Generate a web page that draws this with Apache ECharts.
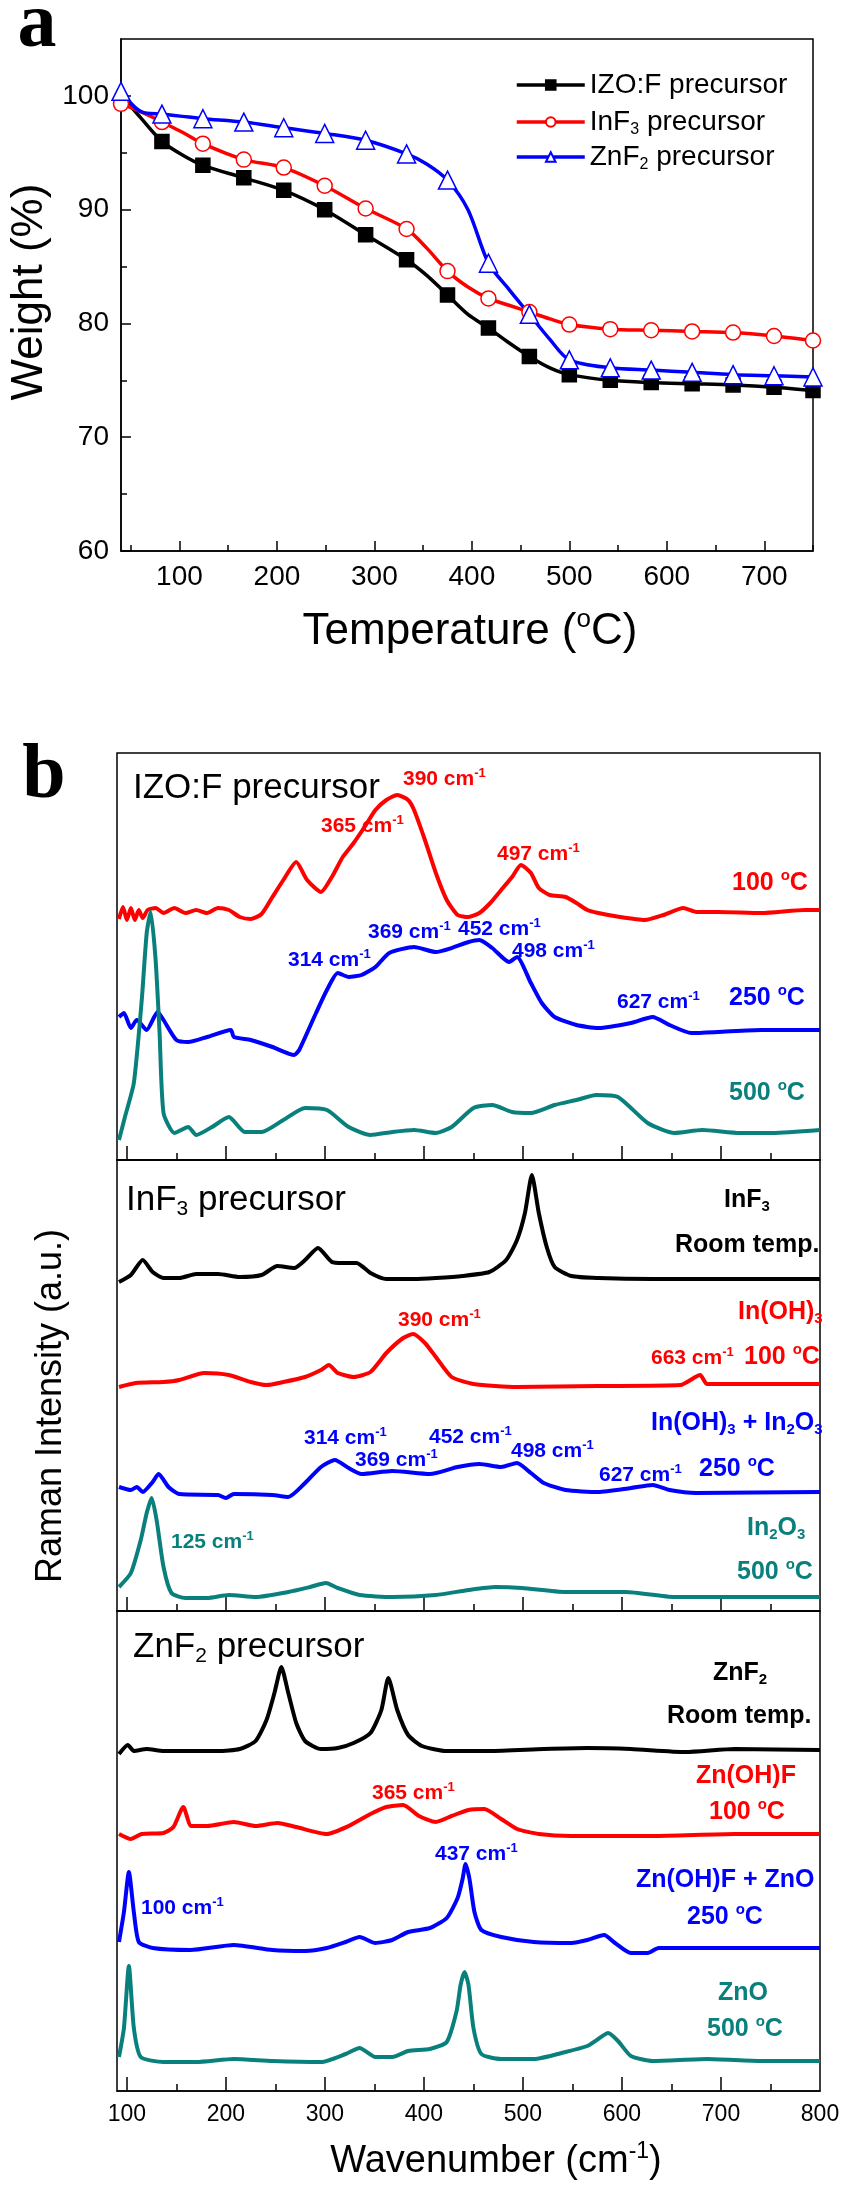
<!DOCTYPE html>
<html>
<head>
<meta charset="utf-8">
<script src="https://cdn.jsdelivr.net/npm/echarts@6/dist/echarts.min.js"></script>
<style>
  html, body { margin: 0; padding: 0; background: #fff; }
  #chart { width: 852px; height: 2196px; }
</style>
</head>
<body>
<div id="chart"></div>
<script>
// ---- panel a : TGA curves ----
const tempA = [40, 61, 82, 103, 124, 166, 207, 249, 291, 333, 354, 375, 396, 417, 438, 459, 480, 500, 542, 584, 626, 668, 710, 750];
const markerTemps = [40, 82, 124, 166, 207, 249, 291, 333, 375, 417, 459, 500, 542, 584, 626, 668, 710, 750];
const weightIZO  = [100.1, 98.0, 96.0, 94.8, 93.9, 92.8, 91.7, 90.0, 87.8, 85.6, 84.2, 82.5, 80.8, 79.6, 78.3, 77.1, 76.1, 75.5, 75.0, 74.8, 74.7, 74.6, 74.4, 74.1];
const weightInF3 = [99.3, 98.6, 97.7, 96.8, 95.8, 94.4, 93.7, 92.1, 90.1, 88.3, 86.6, 84.6, 83.2, 82.2, 81.6, 81.0, 80.4, 79.9, 79.5, 79.4, 79.3, 79.2, 78.9, 78.5];
const weightZnF2 = [100.4, 98.6, 98.4, 98.2, 98.0, 97.7, 97.2, 96.7, 96.1, 94.9, 94.0, 92.6, 90.0, 85.3, 83.0, 80.8, 78.6, 76.8, 76.1, 75.9, 75.7, 75.5, 75.4, 75.3];
const tgaNames = ['IZO:F precursor', 'InF3 precursor', 'ZnF2 precursor'];
const tempTicks = [100, 200, 300, 400, 500, 600, 700];
const tempMinor = [50, 150, 250, 350, 450, 550, 650, 750];
const weightTicks = [60, 70, 80, 90, 100];
const weightMinor = [65, 75, 85, 95];

// ---- panel b : Raman spectra, [wavenumber, intensity + offset] ----
const waveTicks = [100, 200, 300, 400, 500, 600, 700, 800];
const waveMinor = [150, 250, 350, 450, 550, 650, 750];

// IZO:F precursor
const izo100 = [[92,241],[96,253],[100,240],[104,252],[108,240],[112,250],[116,242],[121,250],[129,252],[137,247],[148,252],[159,247],[170,250],[181,247],[192,252],[203,250],[214,243],[225,241],[236,246],[247,263],[258,280],[271,298],[282,280],[296,268],[307,283],[318,303],[329,317],[340,333],[351,350],[362,360],[373,365],[384,360],[390,350],[401,320],[412,287],[423,260],[434,245],[445,243],[456,247],[467,257],[478,270],[489,283],[498,295],[508,287],[516,272],[527,265],[543,263],[554,257],[565,250],[576,247],[598,243],[623,240],[642,245],[662,252],[675,248],[697,248],[741,247],[785,250],[800,250]];
const izo250 = [[92,143],[97,147],[104,132],[110,140],[120,130],[131,148],[137,140],[150,120],[162,118],[181,123],[205,130],[208,123],[225,120],[247,113],[269,105],[274,110],[291,147],[302,170],[313,187],[324,183],[337,185],[351,193],[365,207],[390,213],[412,208],[428,212],[445,218],[456,220],[469,212],[486,198],[494,203],[508,177],[519,157],[532,143],[554,135],[576,132],[609,137],[631,143],[648,135],[670,127],[697,128],[741,130],[800,130]];
const izo500 = [[92,20],[98,43],[107,77],[115,160],[120,227],[124,248],[129,200],[133,127],[137,47],[148,27],[162,33],[170,25],[186,33],[203,43],[219,28],[236,28],[258,40],[280,52],[302,50],[324,33],[346,25],[368,28],[390,30],[412,27],[428,33],[450,52],[469,55],[489,48],[508,47],[532,55],[554,60],[574,65],[596,63],[626,37],[653,27],[681,30],[719,27],[752,27],[800,30]];

// InF3 precursor
const inf3RT = [[92,329],[104,336],[116,351],[126,339],[137,333],[153,333],[170,337],[192,337],[214,334],[236,336],[252,345],[269,343],[280,351],[293,363],[307,349],[318,348],[332,348],[346,338],[362,332],[390,332],[412,333],[439,335],[466,339],[483,351],[494,371],[502,398],[509,436],[516,398],[524,364],[532,344],[549,335],[576,333],[631,332],[686,332],[800,332]];
const inf3_100 = [[92,224],[109,228],[137,229],[153,231],[178,238],[203,236],[225,229],[241,226],[258,229],[280,234],[296,241],[304,246],[313,238],[329,234],[346,239],[362,258],[379,273],[389,277],[401,268],[412,254],[428,234],[450,227],[494,224],[576,225],[659,226],[679,236],[686,227],[800,227]];
const inf3_250 = [[92,124],[104,121],[110,124],[116,119],[126,129],[132,137],[142,124],[153,117],[192,116],[200,113],[208,117],[247,116],[263,114],[280,128],[296,144],[310,151],[324,143],[337,137],[368,140],[406,137],[434,144],[456,147],[478,144],[494,148],[508,138],[521,128],[543,121],[576,119],[609,123],[631,126],[648,121],[675,118],[800,119]];
const inf3_500 = [[92,24],[104,38],[114,71],[120,98],[125,113],[130,91],[137,44],[145,18],[159,13],[181,13],[203,16],[230,14],[263,19],[285,24],[301,28],[313,23],[335,16],[368,14],[412,16],[445,21],[472,24],[499,23],[543,19],[604,19],[653,14],[697,14],[800,14]];

// ZnF2 precursor
const znf2RT = [[92,337],[101,346],[107,340],[120,342],[137,340],[164,340],[192,340],[214,342],[230,350],[241,371],[249,398],[256,424],[263,398],[271,368],[280,350],[296,342],[313,343],[329,348],[346,358],[357,381],[364,413],[373,381],[384,356],[398,345],[423,340],[466,340],[521,342],[565,343],[609,342],[664,339],[714,342],[800,341]];
const znf2_100 = [[92,257],[104,252],[115,257],[137,258],[147,264],[157,284],[165,265],[181,265],[208,269],[230,265],[252,268],[271,264],[302,257],[324,265],[346,277],[362,284],[379,286],[395,275],[412,269],[428,275],[445,281],[461,282],[478,272],[494,262],[516,257],[549,255],[631,255],[714,257],[800,257]];
const znf2_250 = [[92,149],[97,179],[102,219],[107,179],[112,149],[126,143],[164,141],[208,146],[247,141],[280,140],[302,143],[321,149],[335,154],[351,148],[368,151],[384,159],[406,163],[423,173],[434,193],[439,212],[442,227],[446,212],[451,179],[458,161],[478,154],[511,149],[549,148],[565,151],[582,156],[593,148],[609,138],[626,138],[637,143],[686,143],[741,143],[800,143]];
const znf2_500 = [[92,34],[97,63],[102,125],[107,63],[114,34],[137,29],[170,29],[208,32],[247,30],[296,29],[321,37],[335,43],[351,34],[368,34],[384,40],[406,42],[423,49],[433,80],[437,106],[441,119],[445,106],[450,63],[458,37],[478,32],[511,32],[543,39],[565,45],[576,52],[586,58],[596,50],[609,35],[631,30],[686,32],[741,30],[800,30]];

const FONT = '"Liberation Sans", Arial, sans-serif';
const RED = '#ff0000', BLUE = '#0000ff', TEAL = '#0a807c', BLACK = '#000000';

function richFor(size, color, weight) {
  const small = Math.round(size * 0.6);
  return {
    s: { fontSize: small, fontFamily: FONT, fontWeight: weight, fill: color, color: color, padding: [0, 0, Math.round(size * 0.55), 0] },
    b: { fontSize: small, fontFamily: FONT, fontWeight: weight, fill: color, color: color, padding: [Math.round(size * 0.5), 0, 0, 0] }
  };
}

function label(x, y, text, size, color, bold, opts) {
  const weight = bold ? 'bold' : 'normal';
  const o = opts || {};
  return {
    type: 'text', x: x, y: y, rotation: o.rotation || 0, z: 100,
    style: {
      text: text, fill: color, fontSize: size, fontWeight: weight,
      fontFamily: o.family || FONT,
      align: o.align || 'left', verticalAlign: 'middle',
      rich: richFor(size, color, weight)
    }
  };
}

function tgaSeries(name, vals, color, symbol, fill, size, skipFirst) {
  return {
    name: name, type: 'line', xAxisIndex: 0, yAxisIndex: 0,
    smooth: 0.3, symbol: symbol, symbolSize: size, showAllSymbol: true,
    lineStyle: { color: color, width: 3.5 },
    itemStyle: { color: fill, borderColor: color, borderWidth: 1.5 },
    data: tempA.map((t, i) => {
      const marked = markerTemps.includes(t) && !(skipFirst && i === 0);
      return { value: [t, vals[i]], symbol: marked ? symbol : 'none' };
    }),
    z: 3
  };
}

function ramanSeries(pairs, color, panel) {
  return {
    type: 'line', xAxisIndex: 2 + panel * 2, yAxisIndex: 2 + panel,
    symbol: 'none', smooth: 0.2,
    lineStyle: { color: color, width: 4 },
    data: pairs
  };
}

function xAxisPair(grid, min, max, major, minor, labels, labelSize) {
  return [{
    type: 'value', gridIndex: grid, min: min, max: max, position: 'bottom',
    axisLine: { show: true, onZero: false, lineStyle: { color: '#000', width: 1.5 } },
    axisTick: { show: true, inside: true, length: grid === 0 ? 10 : 14, customValues: major, lineStyle: { color: '#000', width: 1.5 } },
    axisLabel: { show: !!labels, customValues: labels || [], fontSize: labelSize, fontFamily: FONT, color: '#000', margin: 12 },
    splitLine: { show: false }
  }, {
    type: 'value', gridIndex: grid, min: min, max: max, position: 'bottom',
    axisLine: { show: false, onZero: false },
    axisTick: { show: true, inside: true, length: grid === 0 ? 6 : 7, customValues: minor, lineStyle: { color: '#000', width: 1.5 } },
    axisLabel: { show: false },
    splitLine: { show: false }
  }];
}

const gridBase = { show: true, borderColor: '#000', borderWidth: 1.5, containLabel: false };
const grids = [
  Object.assign({ left: 121, top: 39, width: 692, height: 512 }, gridBase),
  Object.assign({ left: 117, top: 753, width: 703, height: 407 }, gridBase),
  Object.assign({ left: 117, top: 1160, width: 703, height: 451 }, gridBase),
  Object.assign({ left: 117, top: 1611, width: 703, height: 480 }, gridBase)
];

const xAxes = [].concat(
  xAxisPair(0, 40, 750, tempTicks, tempMinor, tempTicks, 28),
  xAxisPair(1, 90, 800, waveTicks.slice(0, 7), waveMinor, null, 23),
  xAxisPair(2, 90, 800, waveTicks.slice(0, 7), waveMinor, null, 23),
  xAxisPair(3, 90, 800, waveTicks.slice(0, 7), waveMinor, waveTicks, 23)
);

const yAxes = [
  {
    type: 'value', gridIndex: 0, min: 60, max: 105, position: 'left',
    axisLine: { show: true, lineStyle: { color: '#000', width: 1.5 } },
    axisTick: { show: true, inside: true, length: 10, customValues: weightTicks, lineStyle: { color: '#000', width: 1.5 } },
    axisLabel: { customValues: weightTicks, fontSize: 28, fontFamily: FONT, color: '#000', margin: 12 },
    splitLine: { show: false }
  },
  {
    type: 'value', gridIndex: 0, min: 60, max: 105, position: 'left',
    axisLine: { show: false },
    axisTick: { show: true, inside: true, length: 6, customValues: weightMinor, lineStyle: { color: '#000', width: 1.5 } },
    axisLabel: { show: false },
    splitLine: { show: false }
  },
  { type: 'value', gridIndex: 1, min: 0, max: 407, show: false },
  { type: 'value', gridIndex: 2, min: 0, max: 451, show: false },
  { type: 'value', gridIndex: 3, min: 0, max: 480, show: false }
];

const legendFmt = name => name.replace(/F(\d)/, 'F{b|$1}');
const legendCenters = [85, 122, 157];
const legends = tgaNames.map((n, i) => ({
  data: [n], left: 515, top: legendCenters[i] - 14, padding: 0,
  itemWidth: 68, itemHeight: 12, itemGap: 5, selectedMode: false,
  lineStyle: { width: 3.5 },
  formatter: legendFmt,
  textStyle: {
    fontSize: 28, fontFamily: FONT, color: '#000',
    rich: { b: { fontSize: 16, fontFamily: FONT, color: '#000', padding: [16, 0, 0, 0] } }
  }
}));

const cm = 'cm{s|-1}';
const texts = [
  label(37, 26, 'a', 78, BLACK, true, { align: 'center', family: '"Liberation Serif", "Times New Roman", serif' }),
  label(30, 292, 'Weight (%)', 44, BLACK, false, { align: 'center', rotation: Math.PI / 2 }),
  label(470, 632, 'Temperature ({s|o}C)', 44, BLACK, false, { align: 'center' }),

  label(44, 777, 'b', 78, BLACK, true, { align: 'center', family: '"Liberation Serif", "Times New Roman", serif' }),
  label(51, 1406, 'Raman Intensity (a.u.)', 36, BLACK, false, { align: 'center', rotation: Math.PI / 2 }),
  label(496, 2162, 'Wavenumber (' + cm + ')', 38, BLACK, false, { align: 'center' }),

  // IZO:F precursor
  label(133, 788, 'IZO:F precursor', 35, BLACK, false),
  label(403, 779, '390 ' + cm, 21, RED, true),
  label(321, 826, '365 ' + cm, 21, RED, true),
  label(497, 854, '497 ' + cm, 21, RED, true),
  label(732, 883, '100 {s|o}C', 25, RED, true),
  label(368, 932, '369 ' + cm, 21, BLUE, true),
  label(458, 929, '452 ' + cm, 21, BLUE, true),
  label(288, 960, '314 ' + cm, 21, BLUE, true),
  label(512, 951, '498 ' + cm, 21, BLUE, true),
  label(617, 1002, '627 ' + cm, 21, BLUE, true),
  label(729, 998, '250 {s|o}C', 25, BLUE, true),
  label(729, 1093, '500 {s|o}C', 25, TEAL, true),

  // InF3 precursor
  label(126, 1200, 'InF{b|3} precursor', 35, BLACK, false),
  label(724, 1200, 'InF{b|3}', 25, BLACK, true),
  label(675, 1245, 'Room temp.', 25, BLACK, true),
  label(398, 1320, '390 ' + cm, 21, RED, true),
  label(738, 1312, 'In(OH){b|3}', 25, RED, true),
  label(651, 1358, '663 ' + cm, 21, RED, true),
  label(744, 1357, '100 {s|o}C', 25, RED, true),
  label(651, 1423, 'In(OH){b|3} + In{b|2}O{b|3}', 25, BLUE, true),
  label(304, 1438, '314 ' + cm, 21, BLUE, true),
  label(429, 1437, '452 ' + cm, 21, BLUE, true),
  label(355, 1460, '369 ' + cm, 21, BLUE, true),
  label(511, 1451, '498 ' + cm, 21, BLUE, true),
  label(599, 1475, '627 ' + cm, 21, BLUE, true),
  label(699, 1469, '250 {s|o}C', 25, BLUE, true),
  label(171, 1542, '125 ' + cm, 21, TEAL, true),
  label(747, 1528, 'In{b|2}O{b|3}', 25, TEAL, true),
  label(737, 1572, '500 {s|o}C', 25, TEAL, true),

  // ZnF2 precursor
  label(133, 1647, 'ZnF{b|2} precursor', 35, BLACK, false),
  label(713, 1673, 'ZnF{b|2}', 25, BLACK, true),
  label(667, 1716, 'Room temp.', 25, BLACK, true),
  label(696, 1776, 'Zn(OH)F', 25, RED, true),
  label(372, 1793, '365 ' + cm, 21, RED, true),
  label(709, 1812, '100 {s|o}C', 25, RED, true),
  label(435, 1854, '437 ' + cm, 21, BLUE, true),
  label(636, 1880, 'Zn(OH)F + ZnO', 25, BLUE, true),
  label(687, 1917, '250 {s|o}C', 25, BLUE, true),
  label(141, 1908, '100 ' + cm, 21, BLUE, true),
  label(718, 1993, 'ZnO', 25, TEAL, true),
  label(707, 2029, '500 {s|o}C', 25, TEAL, true)
];

const chart = echarts.init(document.getElementById('chart'));
chart.setOption({
  animation: false,
  backgroundColor: '#fff',
  grid: grids,
  xAxis: xAxes,
  yAxis: yAxes,
  legend: legends,
  graphic: texts,
  series: [
    tgaSeries(tgaNames[0], weightIZO, BLACK, 'rect', BLACK, 14, true),
    tgaSeries(tgaNames[1], weightInF3, RED, 'circle', '#fff', 15, false),
    tgaSeries(tgaNames[2], weightZnF2, BLUE, 'triangle', '#fff', 18, false),

    ramanSeries(izo100, RED, 0),
    ramanSeries(izo250, BLUE, 0),
    ramanSeries(izo500, TEAL, 0),

    ramanSeries(inf3RT, BLACK, 1),
    ramanSeries(inf3_100, RED, 1),
    ramanSeries(inf3_250, BLUE, 1),
    ramanSeries(inf3_500, TEAL, 1),

    ramanSeries(znf2RT, BLACK, 2),
    ramanSeries(znf2_100, RED, 2),
    ramanSeries(znf2_250, BLUE, 2),
    ramanSeries(znf2_500, TEAL, 2)
  ]
});
window.addEventListener('resize', () => chart.resize());
</script>
</body>
</html>
